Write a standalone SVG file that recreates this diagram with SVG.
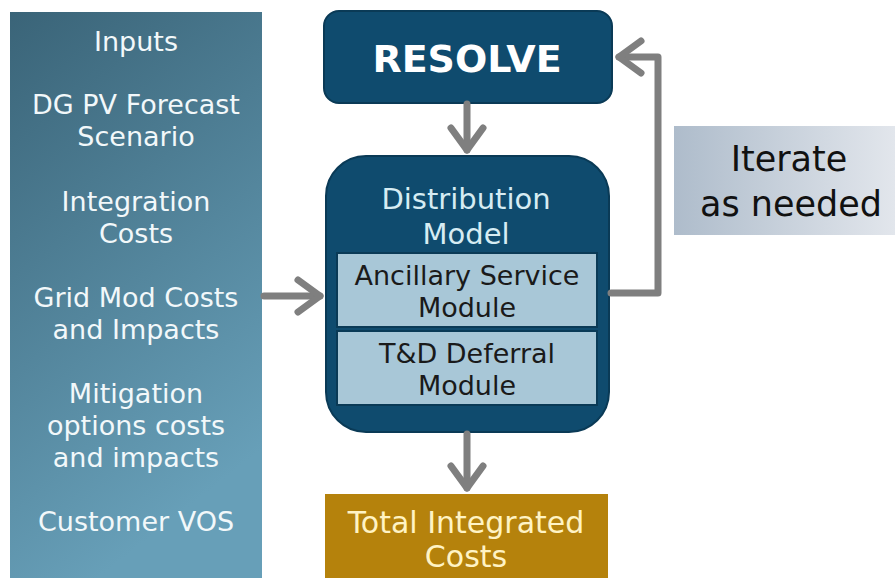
<svg xmlns="http://www.w3.org/2000/svg" width="895" height="578" viewBox="0 0 895 578">
<defs>
<linearGradient id="gLeft" x1="0" y1="0" x2="0.35" y2="1">
<stop offset="0" stop-color="#3a6478"/>
<stop offset="1" stop-color="#679fb8"/>
</linearGradient>
<linearGradient id="gIter" x1="0" y1="0" x2="1" y2="0">
<stop offset="0" stop-color="#aebccb"/>
<stop offset="1" stop-color="#e2e6ec"/>
</linearGradient>
<style>
.lt{font-family:"DejaVu Sans",Verdana,sans-serif;font-size:27px;fill:#f2f8fa;text-anchor:middle}
.dk{font-family:"DejaVu Sans",Verdana,sans-serif;font-size:27px;fill:#1a1a1a;text-anchor:middle}
.conn{fill:none;stroke:#7f7f7f;stroke-width:7;stroke-linecap:round;stroke-linejoin:round}
.head{fill:none;stroke:#7f7f7f;stroke-width:7;stroke-linecap:round;stroke-linejoin:round}
</style>
</defs>
<rect width="895" height="578" fill="#ffffff"/>
<g id="inputs">
<rect x="10" y="12" width="252" height="566" fill="url(#gLeft)"/>
<text class="lt" x="136" y="51">Inputs</text>
<text class="lt" x="136" y="114">DG PV Forecast</text>
<text class="lt" x="136" y="146">Scenario</text>
<text class="lt" x="136" y="211">Integration</text>
<text class="lt" x="136" y="243">Costs</text>
<text class="lt" x="136" y="307">Grid Mod Costs</text>
<text class="lt" x="136" y="339">and Impacts</text>
<text class="lt" x="136" y="403">Mitigation</text>
<text class="lt" x="136" y="435">options costs</text>
<text class="lt" x="136" y="467">and impacts</text>
<text class="lt" x="136" y="531">Customer VOS</text>
</g>
<g id="resolve">
<rect x="324" y="11" width="288" height="92" rx="15" fill="#0f4b6e" stroke="#0a3a56" stroke-width="2"/>
<text x="467" y="72" font-family="'DejaVu Sans',Verdana,sans-serif" font-size="38" font-weight="bold" fill="#ffffff" text-anchor="middle">RESOLVE</text>
</g>
<g id="distribution">
<rect x="326" y="156" width="283" height="276" rx="40" fill="#0f4b6e" stroke="#0a3a56" stroke-width="2"/>
<text class="lt" x="466" y="209" style="font-size:29px;fill:#d6ecf3">Distribution</text>
<text class="lt" x="466" y="244" style="font-size:29px;fill:#d6ecf3">Model</text>
</g>
<g id="ancillary">
<rect x="337" y="253" width="260" height="74" fill="#a8c7d7" stroke="#0a3a56" stroke-width="2"/>
<text class="dk" x="467" y="285">Ancillary Service</text>
<text class="dk" x="467" y="317">Module</text>
</g>
<g id="td">
<rect x="337" y="331" width="260" height="74" fill="#a8c7d7" stroke="#0a3a56" stroke-width="2"/>
<text class="dk" x="467" y="363">T&amp;D Deferral</text>
<text class="dk" x="467" y="395">Module</text>
</g>
<g id="total">
<rect x="325" y="494" width="283" height="84" fill="#b5820c"/>
<text class="lt" x="466" y="533" style="font-size:30px;fill:#fff3c4">Total Integrated</text>
<text class="lt" x="466" y="567" style="font-size:30px;fill:#fff3c4">Costs</text>
</g>
<g id="iterate">
<rect x="674" y="126" width="221" height="109" fill="url(#gIter)"/>
<text x="789" y="171" font-family="'DejaVu Sans',Verdana,sans-serif" font-size="35" fill="#111111" text-anchor="middle">Iterate</text>
<text x="791" y="216" font-family="'DejaVu Sans',Verdana,sans-serif" font-size="35" fill="#111111" text-anchor="middle">as needed</text>
</g>
<g id="connectors">
<line class="conn" x1="467" y1="104" x2="467" y2="150"/>
<polyline class="head" points="451,128 467,150 483,128"/>
<line class="conn" x1="467" y1="434" x2="467" y2="488"/>
<polyline class="head" points="451,466 467,488 483,466"/>
<line class="conn" x1="264" y1="296" x2="320" y2="296"/>
<polyline class="head" points="298,280 320,296 298,312"/>
<polyline class="conn" points="611,293 658,293 658,57 619,57"/>
<polyline class="head" points="641,41 619,57 641,73"/>
</g>
</svg>
